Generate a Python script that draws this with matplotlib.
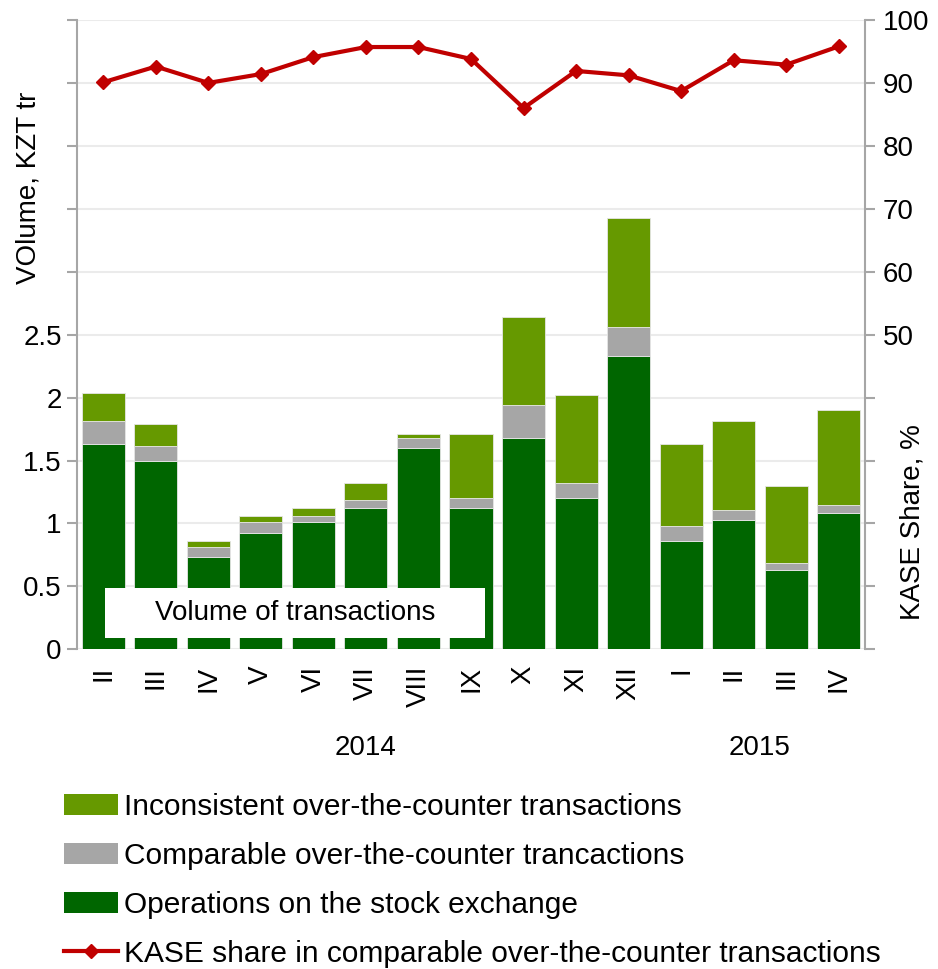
import matplotlib
matplotlib.use("Agg")
import matplotlib.pyplot as plt
from matplotlib.lines import Line2D
from matplotlib.patches import Patch, Rectangle
import matplotlib.transforms as mtransforms
import numpy as np

plt.rcParams['font.family'] = ['Liberation Sans', 'DejaVu Sans']

# months (Roman numerals) and years
months = ['II', 'III', 'IV', 'V', 'VI', 'VII', 'VIII', 'IX', 'X', 'XI', 'XII', 'I', 'II', 'III', 'IV']
years = ['2014', '2015']
year_spans = [(0, 10), (11, 14)]

# volumes, KZT tr
stock_exchange = [1.63, 1.50, 0.733, 0.926, 1.01, 1.121, 1.596, 1.121, 1.675, 1.205, 2.33, 0.86, 1.026, 0.63, 1.087]
comparable_otc = [0.18, 0.115, 0.079, 0.084, 0.048, 0.069, 0.084, 0.085, 0.265, 0.115, 0.23, 0.116, 0.084, 0.053, 0.056]
inconsistent_otc = [0.23, 0.175, 0.051, 0.048, 0.066, 0.129, 0.03, 0.504, 0.70, 0.70, 0.865, 0.654, 0.70, 0.617, 0.762]

# KASE share in comparable OTC transactions, %
kase_share = [90.1, 92.6, 90.0, 91.4, 94.1, 95.7, 95.7, 93.8, 86.0, 91.9, 91.2, 88.7, 93.6, 92.9, 95.8]

c_stock = '#006600'
c_comp = '#A6A6A6'
c_incons = '#669900'
c_line = '#C00000'
c_axis = '#A6A6A6'
fs = 20

fig = plt.figure(figsize=(9.38, 9.69), dpi=100)
ax = fig.add_axes([0.0821, 0.3299, 0.8401, 0.6495])

x = np.arange(len(months))
stock = np.array(stock_exchange)
comp = np.array(comparable_otc)
inc = np.array(inconsistent_otc)
w = 0.82
ax.bar(x, stock, w, color=c_stock, edgecolor='#E6E6E6', linewidth=0.6, zorder=2)
ax.bar(x, comp, w, bottom=stock, color=c_comp, edgecolor='#E6E6E6', linewidth=0.6, zorder=2)
ax.bar(x, inc, w, bottom=stock + comp, color=c_incons, edgecolor='#E6E6E6', linewidth=0.6, zorder=2)

ax.set_xlim(-0.5, len(months) - 0.5)
ax.set_ylim(0, 5)
ax.set_yticks(np.arange(0, 5.01, 0.5))
ax.set_yticklabels(['0', '0.5', '1', '1.5', '2', '2.5', '', '', '', '', ''])
ax.yaxis.grid(True, color='#EBEBEB', linewidth=1.5, zorder=0)
ax.set_axisbelow(True)
ax.set_xticks(x)
ax.set_xticklabels(months, rotation=90, va='top', ha='center', fontsize=fs)
ax.tick_params(axis='x', length=0, pad=12)
ax.tick_params(axis='y', length=7, width=1.5, color=c_axis, labelsize=fs, pad=4)
for s in ['top', 'bottom']:
    ax.spines[s].set_visible(False)
ax.spines['left'].set_color(c_axis)
ax.spines['left'].set_linewidth(1.5)
ax.spines['right'].set_visible(False)
ax.set_ylabel('VOlume, KZT tr', fontsize=fs)
ax.yaxis.set_label_coords(-0.045, 0.733)

ax2 = ax.twinx()
ax2.plot(x, kase_share, color=c_line, linewidth=3, marker='D', markersize=7.5, zorder=3)
ax2.set_ylim(0, 100)
ax2.set_yticks(np.arange(0, 101, 10))
ax2.set_yticklabels(['', '', '', '', '', '50', '60', '70', '80', '90', '100'])
ax2.tick_params(axis='y', length=7, width=1.5, color=c_axis, labelsize=fs, pad=6)
for s in ['top', 'bottom', 'left']:
    ax2.spines[s].set_visible(False)
ax2.spines['right'].set_color(c_axis)
ax2.spines['right'].set_linewidth(1.5)
ax2.set_ylabel('KASE Share, %', fontsize=fs)
ax2.yaxis.set_label_coords(1.044, 0.202)

# label box inside the plot
ax2.add_patch(Rectangle((0.0355, 0.0184), 0.482, 0.0795, transform=ax2.transAxes,
                        facecolor='white', edgecolor='none', zorder=4))
ax2.text(0.2766, 0.058, 'Volume of transactions', transform=ax2.transAxes,
         ha='center', va='center', fontsize=fs, zorder=5)

# year labels
trans = mtransforms.blended_transform_factory(ax.transData, ax.transAxes)
for yr, (a, b) in zip(years, year_spans):
    ax.text((a + b) / 2, -0.157, yr, transform=trans, ha='center', va='center', fontsize=fs)

handles = [
    Patch(facecolor=c_incons, edgecolor='none'),
    Patch(facecolor=c_comp, edgecolor='none'),
    Patch(facecolor=c_stock, edgecolor='none'),
    Line2D([], [], color=c_line, linewidth=3, marker='D', markersize=7.5),
]
labels = [
    'Inconsistent over-the-counter transactions',
    'Comparable over-the-counter trancactions',
    'Operations on the stock exchange',
    'KASE share in comparable over-the-counter transactions',
]
fig.legend(handles, labels, loc='upper left', bbox_to_anchor=(0.055, 1 - 781 / 969),
           frameon=False, fontsize=21.5, handlelength=1.84, handleheight=0.7,
           handletextpad=0.17, labelspacing=0.7, borderaxespad=0)

fig.savefig('out.png', dpi=100)
